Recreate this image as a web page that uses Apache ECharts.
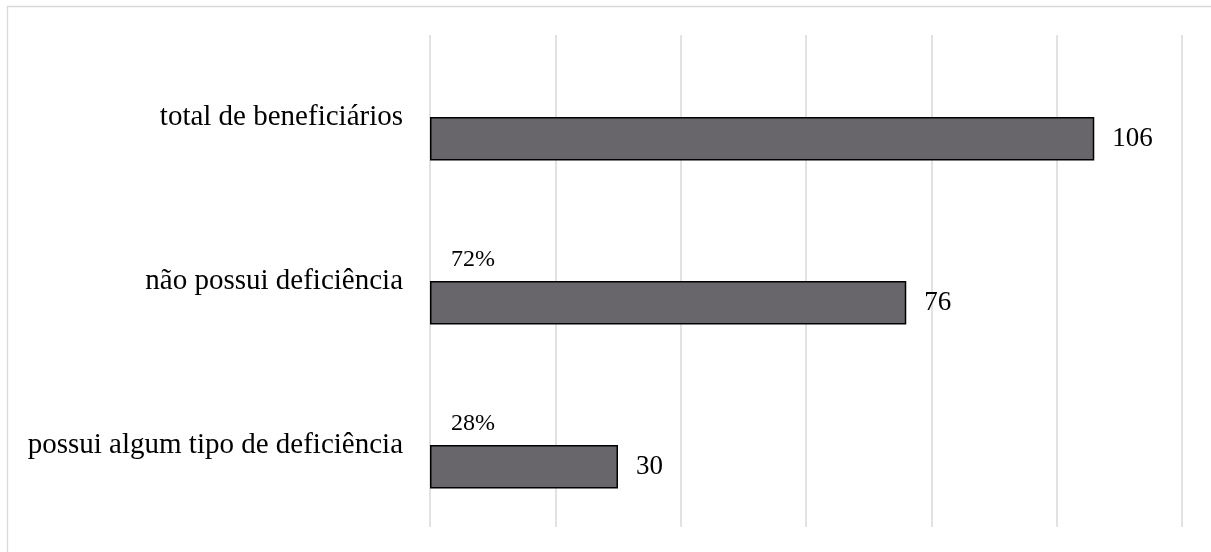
<!DOCTYPE html>
<html>
<head>
<meta charset="utf-8">
<script src="https://cdn.jsdelivr.net/npm/echarts@6/dist/echarts.min.js"></script>
<style>
html,body{margin:0;padding:0;background:#fff;}
#chart{width:1211px;height:552px;}
</style>
</head>
<body>
<div id="chart"></div>
<script>
const categories = ['total de beneficiários', 'não possui deficiência', 'possui algum tipo de deficiência'];
const counts = [106, 76, 30];
const percents = [null, 72, 28];
const xTicks = { min: 0, max: 120, interval: 20 };

const FONT = '"Liberation Serif", "Times New Roman", serif';
const chart = echarts.init(document.getElementById('chart'), null, { renderer: 'canvas' });
chart.setOption({
  animation: false,
  backgroundColor: '#ffffff',
  graphic: [{
    type: 'rect', silent: true, z: -10,
    shape: { x: 7.5, y: 6.5, width: 1300, height: 700 },
    style: { fill: 'none', stroke: '#d9d9d9', lineWidth: 1.3 }
  }],
  grid: { left: 430, right: 29, top: 35, bottom: 25, containLabel: false },
  xAxis: {
    type: 'value', min: xTicks.min, max: xTicks.max, interval: xTicks.interval,
    axisLabel: { show: false }, axisLine: { show: false }, axisTick: { show: false },
    splitLine: { show: true, lineStyle: { color: '#d9d9d9', width: 1.5 } }
  },
  yAxis: {
    type: 'category', data: categories, inverse: true,
    axisLine: { show: false }, axisTick: { show: false },
    axisLabel: { margin: 27, color: '#000', fontFamily: FONT, fontSize: 29 }
  },
  series: [
    {
      type: 'bar', data: percents, barWidth: 43.5, barGap: 0,
      itemStyle: { color: 'rgba(0,0,0,0)' },
      label: {
        show: true, position: 'insideLeft', distance: 21,
        formatter: p => (p.value == null ? '' : p.value + '%'),
        color: '#000', fontFamily: FONT, fontSize: 24
      },
      silent: true
    },
    {
      type: 'bar', data: counts, barWidth: 43.5, barGap: 0,
      itemStyle: { color: '#68656b', borderColor: '#000', borderWidth: 1.5 },
      label: {
        show: true, position: 'right', distance: 18,
        color: '#000', fontFamily: FONT, fontSize: 27
      }
    }
  ]
});
</script>
</body>
</html>
